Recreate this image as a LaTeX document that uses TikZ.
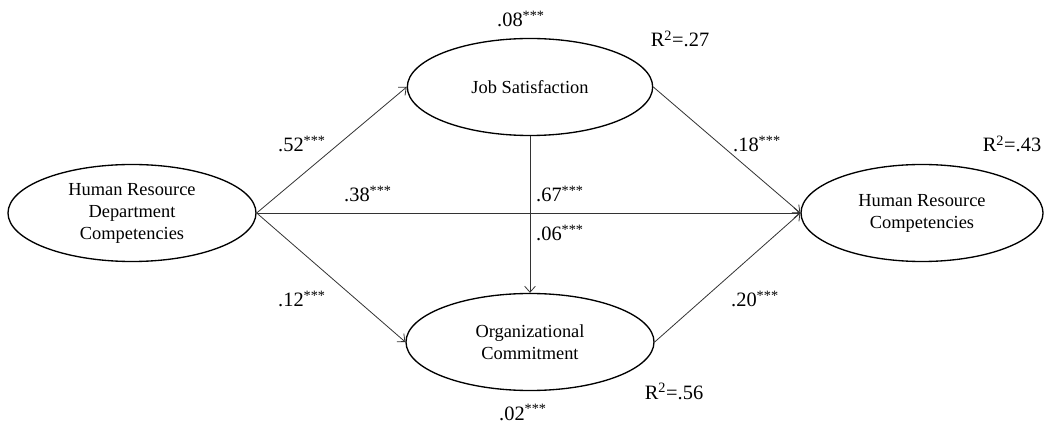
\documentclass[tikz,border=0pt]{standalone}
\usepackage{fontspec}
\setmainfont{Liberation Serif}
\usetikzlibrary{shapes.geometric, arrows.meta}
\newcommand{\sig}{\textsuperscript{***}}

\begin{document}
\begin{tikzpicture}[x=0.75pt, y=-0.75pt,
        latent/.style={ellipse, draw, line width=1pt, minimum height=72.75pt, inner sep=0pt, align=center,
                font=\fontsize{13.8}{16.5}\selectfont},
        coef/.style={anchor=base, inner sep=0pt, font=\fontsize{15.3}{18}\selectfont},
        path/.style={line width=0.6pt, draw=black!80, -{Straight Barb[length=4.5pt, width=8pt]}}]
        \useasboundingbox (0,0) rectangle (1044,423);
        \node[latent, minimum width=186pt] (hrdc) at (132,213) {Human Resource\\Department\\Competencies};
        \node[latent, minimum width=184pt] (js) at (530,87) {Job Satisfaction};
        \node[latent, minimum width=186pt] (oc) at (530,342) {Organizational\\Commitment};
        \node[latent, minimum width=181.5pt] (hrc) at (922,213) {Human Resource\\Competencies};

        \draw[path] (hrdc.east) -- (js.west);
        \draw[path] (hrdc.east) -- (oc.west);
        \draw[path] (hrdc.east) -- (hrc.west);
        \draw[path] (js.south) -- (oc.north);
        \draw[path] (js.east) -- (hrc.west);
        \draw[path] (oc.east) -- (hrc.west);

        \node[coef] (e-js) at (521,27) {.08\sig};
        \node[coef] (r-js) at (680,47) {R\textsuperscript{2}=.27};
        \node[coef] (b-hrdc-js) at (302,152) {.52\sig};
        \node[coef] (b-hrdc-hrc) at (368,202) {.38\sig};
        \node[coef] (b-hrdc-oc) at (302,307) {.12\sig};
        \node[coef] (b-js-oc) at (560,202) {.67\sig};
        \node[coef] (i-js-oc) at (560,241) {.06\sig};
        \node[coef] (b-js-hrc) at (757,152) {.18\sig};
        \node[coef] (r-hrc) at (1012,152) {R\textsuperscript{2}=.43};
        \node[coef] (b-oc-hrc) at (755,307) {.20\sig};
        \node[coef] (r-oc) at (674,399) {R\textsuperscript{2}=.56};
        \node[coef] (e-oc) at (523,420) {.02\sig};
\end{tikzpicture}
\end{document}
